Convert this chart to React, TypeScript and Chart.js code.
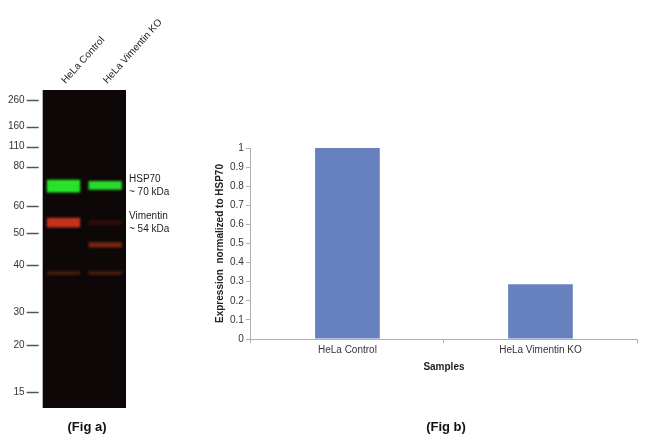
import { useEffect, useRef } from "react"
import { Chart, registerables, Plugin } from "chart.js"

Chart.register(...registerables)

const FONT = "'Liberation Sans', Arial, Helvetica, sans-serif"

// Fig a: western blot
const lanes = ["HeLa Control", "HeLa Vimentin KO"]
const markerKDa = [260, 160, 110, 80, 60, 50, 40, 30, 20, 15]
// migration from the top of the membrane, % of membrane length
const markerMigration = [3.1, 11.5, 17.8, 24.1, 36.5, 44.9, 55.0, 69.8, 80.3, 95.0]
const hsp70Band = [[28.2, 32.2], [28.6, 31.4]]
const vimentinBand = [[40.2, 43.2], [40.9, 42.5]]
const band46kDa = [null, [47.9, 49.5]]
const band38kDa = [[57.0, 58.1], [57.0, 58.1]]
const bandNotes = [["HSP70", "~ 70 kDa"], ["Vimentin", "~ 54 kDa"]]

// Fig b: expression normalized to HSP70
const samples = ["HeLa Control", "HeLa Vimentin KO"]
const expression = [1, 0.287]

const membranePlugin: Plugin<"bar"> = {
  id: "membrane",
  beforeDatasetsDraw(chart) {
    const { ctx, chartArea: a } = chart
    ctx.save()
    ctx.fillStyle = "#0d0807"
    ctx.fillRect(a.left, a.top, a.width, a.height)
    ctx.restore()
  },
  beforeDatasetDraw(chart) {
    chart.ctx.save()
    chart.ctx.filter = "blur(1.2px)"
  },
  afterDatasetDraw(chart) {
    chart.ctx.restore()
  },
  afterDraw(chart) {
    const { ctx, chartArea: a } = chart
    const x = chart.scales.x
    const y = chart.scales.y
    ctx.save()
    // marker dashes
    ctx.strokeStyle = "#555"
    ctx.lineWidth = 1.5
    y.ticks.forEach((t) => {
      const py = Math.round(y.getPixelForValue(t.value)) + 0.5
      ctx.beginPath()
      ctx.moveTo(a.left - 16, py)
      ctx.lineTo(a.left - 4, py)
      ctx.stroke()
    })
    ctx.fillStyle = "#222"
    ctx.font = `10px ${FONT}`
    // lane names, slanted above the membrane
    ctx.textAlign = "left"
    ctx.textBaseline = "alphabetic"
    lanes.forEach((lane, i) => {
      ctx.save()
      ctx.translate(x.getPixelForValue(i) + 2, a.top - 6)
      ctx.rotate((-48 * Math.PI) / 180)
      ctx.fillText(lane, 0, 0)
      ctx.restore()
    })
    // band names
    ctx.textBaseline = "middle"
    const anchors = [hsp70Band[0], vimentinBand[0]]
    bandNotes.forEach((lines, i) => {
      const mid = y.getPixelForValue((anchors[i][0] + anchors[i][1]) / 2)
      ctx.fillText(lines[0], a.right + 3, mid - 6.5)
      ctx.fillText(lines[1], a.right + 3, mid + 6.5)
    })
    ctx.restore()
  },
}

function BlotChart() {
  const chartRef = useRef<HTMLCanvasElement>(null)
  const chartInstance = useRef<Chart | null>(null)

  useEffect(() => {
    if (!chartRef.current) return
    if (chartInstance.current) chartInstance.current.destroy()
    const ctx = chartRef.current.getContext("2d")
    if (!ctx) return

    const band = { grouped: false, barPercentage: 0.8, categoryPercentage: 1, borderWidth: 0, borderSkipped: false }

    chartInstance.current = new Chart(ctx, {
      type: "bar",
      data: {
        labels: lanes,
        datasets: [
          { ...band, label: "HSP70", data: hsp70Band as any, backgroundColor: ["#27e42a", "#2ada2a"] },
          { ...band, label: "Vimentin", data: vimentinBand as any, backgroundColor: ["#c5301f", "rgba(110,30,16,0.3)"] },
          { ...band, label: "~46 kDa", data: band46kDa as any, backgroundColor: "#742612" },
          { ...band, label: "~38 kDa", data: band38kDa as any, backgroundColor: "#4c1d0c" },
        ],
      },
      options: {
        responsive: true,
        maintainAspectRatio: false,
        animation: false,
        events: [],
        layout: { padding: { top: 90, right: 48, bottom: 35, left: 0 } },
        plugins: { legend: { display: false }, tooltip: { enabled: false } },
        scales: {
          x: { display: false },
          y: {
            type: "linear",
            reverse: true,
            min: 0,
            max: 100,
            afterBuildTicks: (axis: any) => {
              axis.ticks = markerMigration.map((value) => ({ value }))
            },
            grid: { display: false, drawTicks: false },
            border: { display: false },
            ticks: {
              autoSkip: false,
              padding: 18,
              color: "#333",
              font: { size: 10 },
              callback: (_v: any, i: number) => String(markerKDa[i]),
            },
          },
        },
      },
      plugins: [membranePlugin],
    })

    return () => {
      if (chartInstance.current) chartInstance.current.destroy()
    }
  }, [])

  return <canvas ref={chartRef} />
}

function ExpressionChart() {
  const chartRef = useRef<HTMLCanvasElement>(null)
  const chartInstance = useRef<Chart | null>(null)

  useEffect(() => {
    if (!chartRef.current) return
    if (chartInstance.current) chartInstance.current.destroy()
    const ctx = chartRef.current.getContext("2d")
    if (!ctx) return

    chartInstance.current = new Chart(ctx, {
      type: "bar",
      data: {
        labels: samples,
        datasets: [
          {
            label: "Expression",
            data: expression,
            backgroundColor: "#6781bf",
            borderWidth: 0,
            barPercentage: 0.335,
            categoryPercentage: 1,
          },
        ],
      },
      options: {
        responsive: true,
        maintainAspectRatio: false,
        animation: false,
        events: [],
        layout: { padding: { top: 148, right: 13, bottom: 70, left: 20 } },
        plugins: { legend: { display: false }, tooltip: { enabled: false } },
        scales: {
          x: {
            grid: { offset: true, drawOnChartArea: false, tickLength: 4, color: "#b0b0b0" },
            border: { color: "#b0b0b0" },
            ticks: { padding: 1, color: "#333", font: { size: 10 } },
            title: {
              display: true,
              text: "Samples",
              color: "#222",
              font: { size: 10, weight: "bold" },
              padding: { top: 4, bottom: 0 },
            },
          },
          y: {
            min: 0,
            max: 1,
            grid: { drawOnChartArea: false, tickLength: 5, color: "#b0b0b0" },
            border: { color: "#b0b0b0" },
            ticks: {
              stepSize: 0.1,
              padding: 2,
              color: "#333",
              font: { size: 10 },
              callback: (v: any) => String(Math.round(Number(v) * 10) / 10),
            },
            title: {
              display: true,
              text: "Expression  normalized to HSP70",
              color: "#222",
              font: { size: 10, weight: "bold" },
              padding: { top: 4, bottom: 2 },
            },
          },
        },
      },
    })

    return () => {
      if (chartInstance.current) chartInstance.current.destroy()
    }
  }, [])

  return <canvas ref={chartRef} />
}

const caption: React.CSSProperties = {
  position: "absolute",
  top: 419,
  width: 80,
  marginLeft: -40,
  textAlign: "center",
  font: `bold 13px/16px ${FONT}`,
  color: "#111",
}

export default function App() {
  Chart.defaults.font.family = FONT

  return (
    <div style={{ position: "fixed", left: 0, top: 0, width: 650, height: 443, background: "#fff", overflow: "hidden" }}>
      <div style={{ position: "absolute", left: -10, top: 0, width: 184, height: 443 }}>
        <BlotChart />
      </div>
      <div style={{ position: "absolute", left: 190, top: 0, width: 460, height: 443 }}>
        <ExpressionChart />
      </div>
      <div style={{ ...caption, left: 87 }}>(Fig a)</div>
      <div style={{ ...caption, left: 446 }}>(Fig b)</div>
    </div>
  )
}
